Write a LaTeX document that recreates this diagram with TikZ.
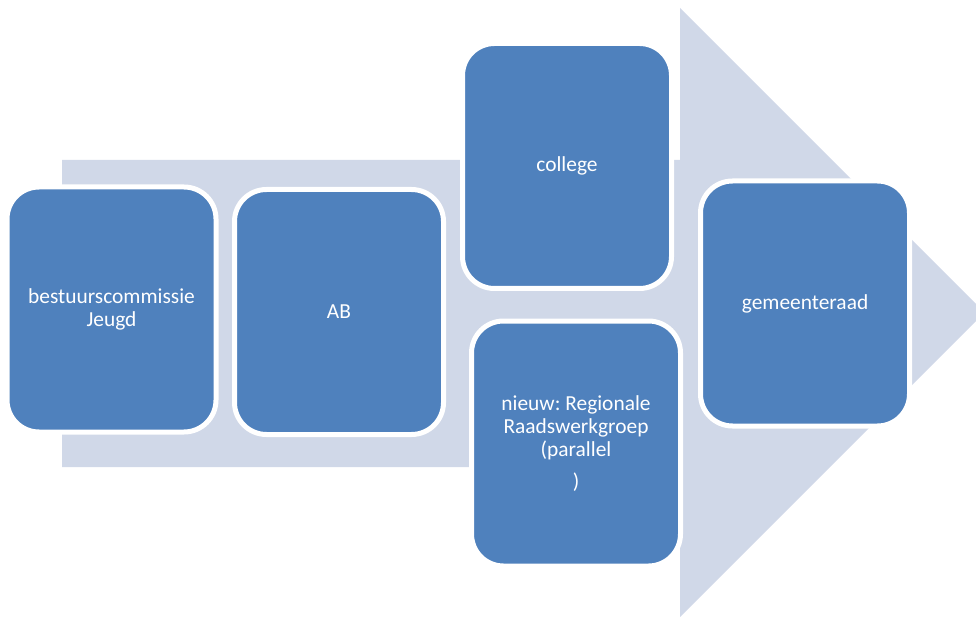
\documentclass[tikz,border=0pt]{standalone}
\usepackage{fontspec}
\setmainfont{Carlito}
\definecolor{boxblue}{HTML}{4F81BD}
\definecolor{arrowbg}{HTML}{D0D8E8}

\begin{document}
\begin{tikzpicture}[
x=1pt, y=-1pt,
    B/.style = {rectangle, rounded corners=32pt, draw=white,% styles of blue boxes
                line width=5pt, fill=boxblue, text=white,
                minimum width=209pt, minimum height=245pt,
                align=center, outer sep=0pt,
                font=\fontsize{21.4}{23}\selectfont\frenchspacing},
                        ]
\useasboundingbox (0,0) rectangle (976,617);
\clip (0,0) rectangle (976,617);
% big arrow behind the boxes
\fill[arrowbg] (62,160) -- (680,160) -- (680,8) -- (984.5,312.5)
    -- (680,617) -- (680,467) -- (62,467) -- cycle;
\node[B] (bc)   at (111.5,309.5) {bestuurscommissie\\Jeugd};
\node[B] (ab)   at (339,312)     {AB};
\node[B] (col)  at (567,166)     {college};
\node[B] (rrw)  at (576,443.5)   {nieuw: Regionale\\Raadswerkgroep\\(parallel\\[9pt])};
\node[B] (gr)   at (805,303.5)   {gemeenteraad};
\end{tikzpicture}
\end{document}
